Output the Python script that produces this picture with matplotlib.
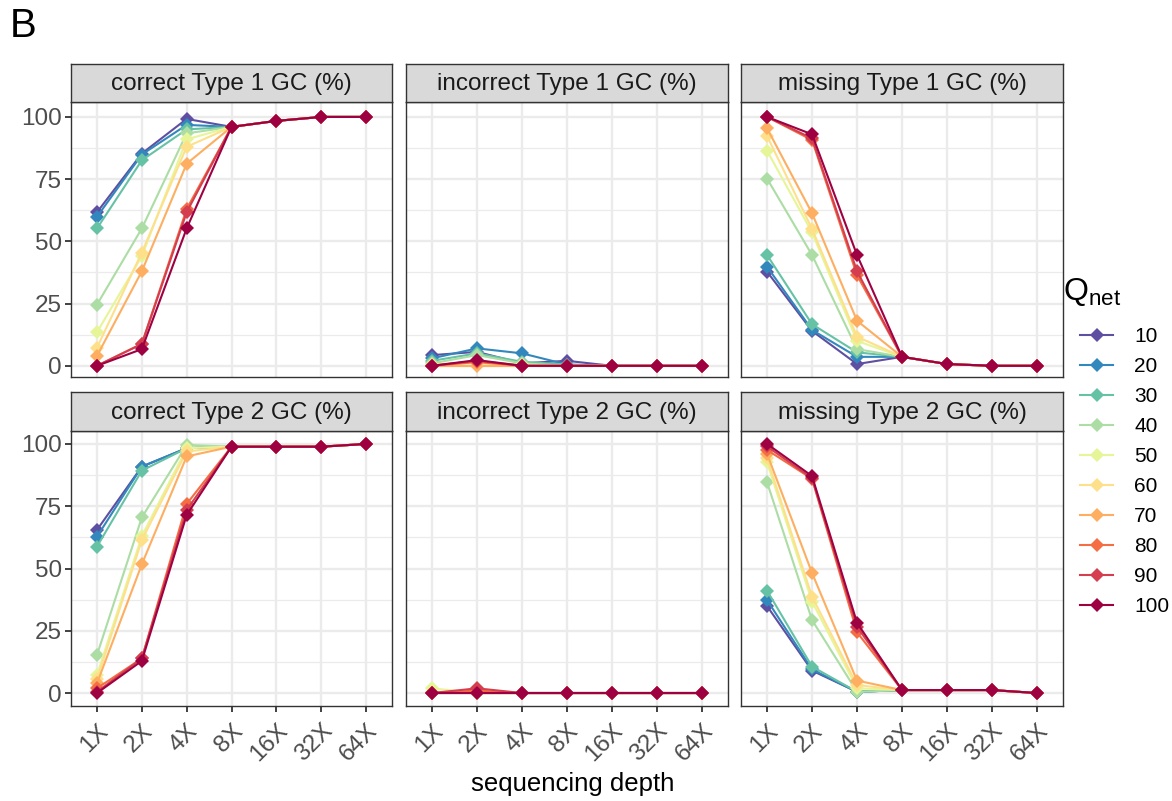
import matplotlib
matplotlib.use("Agg")
import matplotlib.pyplot as plt
from matplotlib.lines import Line2D

plt.rcParams['font.family'] = ['Liberation Sans', 'DejaVu Sans']

depths = ["1X", "2X", "4X", "8X", "16X", "32X", "64X"]
qnet = [10, 20, 30, 40, 50, 60, 70, 80, 90, 100]
colors = ["#5E4FA2", "#3288BD", "#66C2A5", "#ABDDA4", "#E6F598",
          "#FEE08B", "#FDAE61", "#F46D43", "#D53E4F", "#9E0142"]
panel_titles = ["correct Type 1 GC (%)", "incorrect Type 1 GC (%)", "missing Type 1 GC (%)",
                "correct Type 2 GC (%)", "incorrect Type 2 GC (%)", "missing Type 2 GC (%)"]
y_ticks = [0, 25, 50, 75, 100]

# rows: Qnet 10..100 ; columns: depths 1X..64X
correct_t1 = [
    [61.7, 85.3, 99.2, 96.0, 98.4, 100, 100],
    [59.9, 84.9, 96.8, 96.0, 98.4, 100, 100],
    [55.2, 82.6, 95.0, 96.0, 98.4, 100, 100],
    [24.6, 55.2, 93.4, 96.0, 98.4, 100, 100],
    [13.5, 44.0, 91.0, 96.0, 98.4, 100, 100],
    [7.3, 45.5, 88.0, 96.0, 98.4, 100, 100],
    [4.0, 38.0, 81.2, 96.0, 98.4, 100, 100],
    [0.0, 8.8, 63.0, 96.0, 98.4, 100, 100],
    [0.0, 8.8, 61.7, 96.0, 98.4, 100, 100],
    [0.0, 6.7, 55.2, 96.0, 98.4, 100, 100],
]
incorrect_t1 = [
    [4.3, 5.6, 1.0, 2.0, 0, 0, 0],
    [3.0, 7.0, 5.0, 0.5, 0, 0, 0],
    [2.0, 5.0, 1.6, 0.5, 0, 0, 0],
    [1.0, 4.3, 1.0, 0.0, 0, 0, 0],
    [0.5, 1.5, 0.5, 0.0, 0, 0, 0],
    [0.5, 1.0, 0.0, 0.0, 0, 0, 0],
    [0.0, 0.0, 0.0, 0.0, 0, 0, 0],
    [0.0, 1.5, 0.0, 0.0, 0, 0, 0],
    [0.0, 2.0, 0.0, 0.0, 0, 0, 0],
    [0.0, 2.3, 0.0, 0.0, 0, 0, 0],
]
missing_t1 = [
    [37.8, 14.0, 0.7, 3.6, 0.7, 0, 0],
    [39.8, 14.4, 3.6, 3.6, 0.7, 0, 0],
    [44.5, 16.7, 5.4, 3.6, 0.7, 0, 0],
    [75.2, 44.5, 6.7, 3.6, 0.7, 0, 0],
    [86.4, 53.6, 10.0, 3.6, 0.7, 0, 0],
    [92.3, 55.0, 11.7, 3.6, 0.7, 0, 0],
    [95.4, 61.3, 18.1, 3.6, 0.7, 0, 0],
    [100, 90.7, 36.4, 3.6, 0.7, 0, 0],
    [100, 91.4, 38.0, 3.6, 0.7, 0, 0],
    [100, 93.0, 44.5, 3.6, 0.7, 0, 0],
]
correct_t2 = [
    [65.5, 90.9, 98.3, 98.9, 98.9, 98.9, 100],
    [62.8, 90.9, 98.3, 98.9, 98.9, 98.9, 100],
    [58.8, 89.3, 98.3, 98.9, 98.9, 98.9, 100],
    [15.3, 70.5, 99.6, 98.9, 98.9, 98.9, 100],
    [7.2, 63.0, 98.3, 98.9, 98.9, 98.9, 100],
    [5.5, 61.4, 97.0, 98.9, 98.9, 98.9, 100],
    [3.9, 51.7, 95.0, 98.9, 98.9, 98.9, 100],
    [1.9, 13.9, 75.9, 98.9, 98.9, 98.9, 100],
    [0.5, 13.9, 73.5, 98.9, 98.9, 98.9, 100],
    [0.0, 12.9, 71.5, 98.9, 98.9, 98.9, 100],
]
incorrect_t2 = [
    [0.0, 0.0, 0, 0, 0, 0, 0],
    [0.0, 0.0, 0, 0, 0, 0, 0],
    [0.0, 0.0, 0, 0, 0, 0, 0],
    [0.0, 0.0, 0, 0, 0, 0, 0],
    [1.9, 0.0, 0, 0, 0, 0, 0],
    [0.5, 0.0, 0, 0, 0, 0, 0],
    [0.0, 0.0, 0, 0, 0, 0, 0],
    [0.0, 1.0, 0, 0, 0, 0, 0],
    [0.0, 1.9, 0, 0, 0, 0, 0],
    [0.0, 0.0, 0, 0, 0, 0, 0],
]
missing_t2 = [
    [34.9, 9.0, 0.5, 1.2, 1.2, 1.2, 0],
    [37.3, 9.5, 0.5, 1.2, 1.2, 1.2, 0],
    [41.1, 10.6, 0.5, 1.2, 1.2, 1.2, 0],
    [84.6, 29.3, 0.5, 1.2, 1.2, 1.2, 0],
    [92.6, 36.7, 1.9, 1.2, 1.2, 1.2, 0],
    [94.2, 38.7, 3.2, 1.2, 1.2, 1.2, 0],
    [96.0, 48.2, 5.0, 1.2, 1.2, 1.2, 0],
    [97.6, 86.0, 24.4, 1.2, 1.2, 1.2, 0],
    [99.0, 86.2, 26.6, 1.2, 1.2, 1.2, 0],
    [100, 87.1, 28.2, 1.2, 1.2, 1.2, 0],
]
panels = [correct_t1, incorrect_t1, missing_t1, correct_t2, incorrect_t2, missing_t2]

W, H = 1172, 801
fig = plt.figure(figsize=(W / 100, H / 100), dpi=100)
fig.patch.set_facecolor("white")

def fbox(x0, y0, x1, y1):
    return [x0 / W, 1 - y1 / H, (x1 - x0) / W, (y1 - y0) / H]

col_x = [(71, 392), (406, 728), (741, 1063)]
row_y = [(102, 377), (431, 706)]
strip_y = [(64, 102), (392, 431)]
row_ylim = [(-4.5, 106.0), (-5.2, 105.2)]
border = "#333333"
txtgrey = "#4D4D4D"
FS = 17.5

xs = list(range(len(depths)))
for i, data in enumerate(panels):
    r, c = divmod(i, 3)
    x0, x1 = col_x[c]
    y0, y1 = row_y[r]
    ax = fig.add_axes(fbox(x0, y0, x1, y1))
    ax.set_facecolor("white")
    ax.set_xlim(-0.58, 6.58)
    ax.set_ylim(*row_ylim[r])
    ax.set_yticks(y_ticks)
    ax.set_yticks([12.5, 37.5, 62.5, 87.5], minor=True)
    ax.set_xticks(xs)
    ax.grid(True, which="major", color="#EBEBEB", lw=1.7, zorder=0)
    ax.grid(True, which="minor", axis="y", color="#EBEBEB", lw=0.9, zorder=0)
    ax.set_axisbelow(True)
    for s in ax.spines.values():
        s.set_color(border)
        s.set_linewidth(1.0)
    ax.tick_params(which="minor", length=0)
    ax.tick_params(which="major", color=border, length=4, width=1.3,
                   labelcolor=txtgrey, labelsize=FS, pad=2.5)
    ax.tick_params(axis="x", pad=6)
    if c == 0:
        ax.set_yticklabels([str(v) for v in y_ticks])
    else:
        ax.tick_params(axis="y", length=0, labelleft=False)
    if r == 1:
        ax.set_xticklabels(depths, rotation=45, ha="right", va="top",
                           rotation_mode="anchor")
    else:
        ax.tick_params(axis="x", length=0, labelbottom=False)
    for k, series in enumerate(data):
        ax.plot(xs, series, color=colors[k], lw=1.5, marker="D", markersize=7,
                markeredgewidth=0, zorder=2 + k, clip_on=False)
    # strip
    sy0, sy1 = strip_y[r]
    sax = fig.add_axes(fbox(x0, sy0, x1, sy1))
    sax.set_facecolor("#D9D9D9")
    sax.set_xticks([])
    sax.set_yticks([])
    for s in sax.spines.values():
        s.set_color(border)
        s.set_linewidth(1.0)
    sax.text(0.5, 0.47, panel_titles[i], ha="center", va="center",
             fontsize=FS, color="#1A1A1A", transform=sax.transAxes)

fig.text(10 / W, 1 - 26 / H, "B", fontsize=29, ha="left", va="center", color="black")
fig.text(573 / W, 1 - 784 / H, "sequencing depth", fontsize=18.5, ha="center",
         va="center", color="black")

fig.text(1063 / W, 1 - 292 / H, r"$\mathregular{Q_{net}}$", fontsize=23,
         ha="left", va="center", color="black")
handles = [Line2D([0], [0], color=colors[k], lw=1.5, marker="D", markersize=7,
                  markeredgewidth=0) for k in range(len(qnet))]
leg = fig.legend(handles, [str(q) for q in qnet], loc="upper left",
                 bbox_to_anchor=(1080 / W, 1 - 327 / H), frameon=False,
                 fontsize=15, handlelength=1.6, labelspacing=0.53,
                 handletextpad=1.0, borderaxespad=0, borderpad=0)

fig.savefig("out.png", dpi=100)
